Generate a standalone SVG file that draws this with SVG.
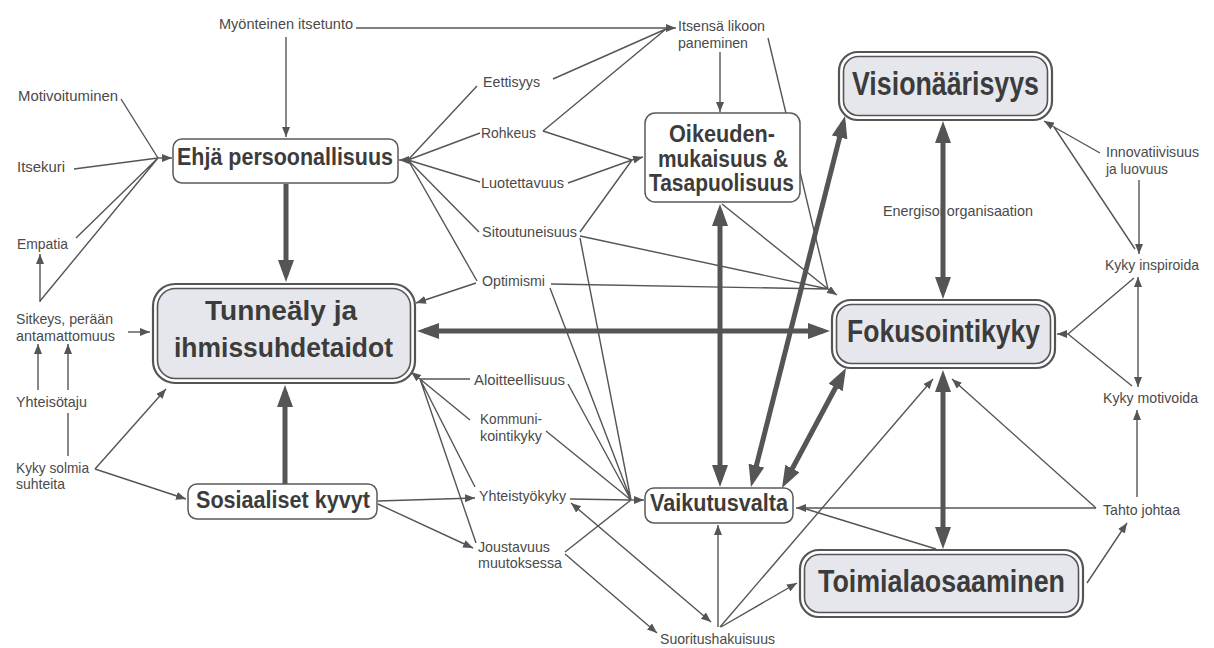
<svg xmlns="http://www.w3.org/2000/svg" width="1214" height="648" viewBox="0 0 1214 648">
  <defs>
    <style>
      .lbl { font-family: "Liberation Sans Narrow", "Liberation Sans", Arial, sans-serif; font-size: 15px; fill: #4a4a4a; }
      .bold { font-family: "Liberation Sans Narrow", "Liberation Sans", Arial, sans-serif; font-weight: bold; fill: #3c3c3c; }
      .thin { stroke: #555; stroke-width: 1.4; fill: none; }
      .thick { stroke: #555; stroke-width: 5; fill: none; }
      .box { fill: #fff; stroke: #5a5a5a; stroke-width: 1.5; }
      .outer { fill: #fff; stroke: #555; stroke-width: 2.2; }
      .inner { fill: #e6e7ec; stroke: #555; stroke-width: 1.6; }
    </style>
    <marker id="a" viewBox="0 0 10 8" refX="10" refY="4" markerWidth="10" markerHeight="8" markerUnits="userSpaceOnUse" orient="auto-start-reverse">
      <path d="M0,0 L10,4 L0,8 z" fill="#555"/>
    </marker>
    <marker id="A" viewBox="0 0 22 16" refX="15" refY="8" markerWidth="22" markerHeight="16" markerUnits="userSpaceOnUse" orient="auto-start-reverse">
      <path d="M0,0 L22,8 L0,16 z" fill="#555"/>
    </marker>
  </defs>
  <rect width="1214" height="648" fill="#fff"/>

  <g id="connectors">
    <!-- thin lines gathered at hubs -->
    <path class="thin" d="M121,99 L158,158 M74,169 L158,158 M76,238 L158,158 M40,301 L158,158"/>
    <path class="thin" d="M158,158 L172,158" marker-end="url(#a)"/>

    <path class="thin" d="M286,37 L286,137" marker-end="url(#a)"/>
    <path class="thin" d="M553,79 L666,29 M543,131 L666,29"/>
    <path class="thin" d="M356,28 L676,28" marker-end="url(#a)"/>

    <path class="thin" d="M408,160 L477,86 M408,160 L480,133 M408,160 L480,182 M408,160 L479,232 M408,160 L477,281"/>
    <path class="thin" d="M408,160 L399,160" marker-end="url(#a)"/>
    <path class="thin" d="M476,283 L416,303" marker-end="url(#a)"/>

    <path class="thin" d="M543,131 L632,160 M568,183 L632,160 M580,232 L632,160"/>
    <path class="thin" d="M632,160 L643,157" marker-end="url(#a)"/>
    <path class="thin" d="M720,52 L720,112" marker-end="url(#a)"/>

    <path class="thin" d="M768,38 L828,289 M722,204 L828,289 M580,236 L828,289 M551,284 L828,289"/>
    <path class="thin" d="M828,289 L837,295" marker-end="url(#a)"/>

    <path class="thin" d="M470,379 L420,379 M470,420 L420,379 M475,487 L420,379 M476,543 L420,379"/>
    <path class="thin" d="M420,379 L411,372" marker-end="url(#a)"/>

    <path class="thin" d="M40,302 L40,254" marker-end="url(#a)"/>
    <path class="thin" d="M38,390 L38,344" marker-end="url(#a)"/>
    <path class="thin" d="M68,390 L68,344" marker-end="url(#a)"/>
    <path class="thin" d="M68,456 L68,413"/>
    <path class="thin" d="M128,332 L150,332" marker-end="url(#a)"/>
    <path class="thin" d="M95,469 L166,389" marker-end="url(#a)"/>
    <path class="thin" d="M95,469 L186,499" marker-end="url(#a)"/>

    <path class="thin" d="M378,501 L475,498" marker-end="url(#a)"/>
    <path class="thin" d="M378,504 L473,548" marker-end="url(#a)"/>

    <path class="thin" d="M580,238 L631,500 M550,288 L631,500 M568,384 L631,500 M546,431 L631,500 M570,499 L631,500 M565,552 L631,500"/>
    <path class="thin" d="M631,500 L644,500" marker-end="url(#a)"/>

    <path class="thin" d="M718,627 L718,525" marker-end="url(#a)"/>
    <path class="thin" d="M720,627 L933,379" marker-end="url(#a)"/>
    <path class="thin" d="M721,627 L797,583" marker-end="url(#a)"/>
    <path class="thin" d="M711,622 L571,503" marker-start="url(#a)" marker-end="url(#a)"/>
    <path class="thin" d="M565,554 L657,633" marker-end="url(#a)"/>

    <path class="thin" d="M1100,153 L1054,127 M1135,249 L1054,127"/>
    <path class="thin" d="M1054,127 L1044,121" marker-end="url(#a)"/>
    <path class="thin" d="M1139,180 L1139,254" marker-end="url(#a)"/>
    <path class="thin" d="M1138,277 L1138,387" marker-start="url(#a)" marker-end="url(#a)"/>
    <path class="thin" d="M1134,278 L1068,334 M1132,386 L1068,334"/>
    <path class="thin" d="M1068,334 L1057,334" marker-end="url(#a)"/>
    <path class="thin" d="M1137,497 L1137,410" marker-end="url(#a)"/>
    <path class="thin" d="M1087,583 L1127,523" marker-end="url(#a)"/>
    <path class="thin" d="M1096,508 L796,508" marker-end="url(#a)"/>
    <path class="thin" d="M1096,508 L952,379" marker-end="url(#a)"/>
    <path class="thin" d="M936,549 L806,509"/>

    <text class="lbl" x="883" y="216" textLength="150" lengthAdjust="spacingAndGlyphs">Energisoi organisaation</text>

    <!-- heavy links -->
    <path class="thick" d="M286,184 L286,275" marker-end="url(#A)"/>
    <path class="thick" d="M285,484 L285,392" marker-end="url(#A)"/>
    <path class="thick" d="M424,331 L823,331" marker-start="url(#A)" marker-end="url(#A)"/>
    <path class="thick" d="M720,211 L720,480" marker-start="url(#A)" marker-end="url(#A)"/>
    <path class="thick" d="M752.7,480.2 L843.3,122.8" marker-start="url(#A)" marker-end="url(#A)"/>
    <path class="thick" d="M785.3,481.8 L842.7,374.2" marker-start="url(#A)" marker-end="url(#A)"/>
    <path class="thick" d="M943,128 L943,292" marker-start="url(#A)" marker-end="url(#A)"/>
    <path class="thick" d="M943,377 L943,542" marker-start="url(#A)" marker-end="url(#A)"/>
  </g>

  <!-- main competences -->
  <g id="visionaarisyys">
    <rect class="outer" x="839" y="52" width="213" height="68" rx="19"/>
    <rect class="inner" x="843.5" y="56.5" width="204" height="59" rx="15"/>
    <text class="bold" x="852" y="95" font-size="33" textLength="187" lengthAdjust="spacingAndGlyphs">Visionäärisyys</text>
  </g>
  <g id="fokusointikyky">
    <rect class="outer" x="832" y="300" width="223" height="68" rx="19"/>
    <rect class="inner" x="836.5" y="304.5" width="214" height="59" rx="15"/>
    <text class="bold" x="847" y="342" font-size="32" textLength="193" lengthAdjust="spacingAndGlyphs">Fokusointikyky</text>
  </g>
  <g id="tunnealy">
    <rect class="outer" x="153" y="284" width="262" height="99" rx="22"/>
    <rect class="inner" x="157.5" y="288.5" width="253" height="90" rx="18"/>
    <text class="bold" x="205" y="320" font-size="28" textLength="152" lengthAdjust="spacingAndGlyphs">Tunneäly ja</text>
    <text class="bold" x="174" y="357" font-size="28" textLength="219" lengthAdjust="spacingAndGlyphs">ihmissuhdetaidot</text>
  </g>
  <g id="toimialaosaaminen">
    <rect class="outer" x="800" y="550" width="283" height="67" rx="19"/>
    <rect class="inner" x="804.5" y="554.5" width="274" height="58" rx="15"/>
    <text class="bold" x="818" y="592" font-size="32" textLength="247" lengthAdjust="spacingAndGlyphs">Toimialaosaaminen</text>
  </g>

  <!-- secondary competences -->
  <g id="ehja">
    <rect class="box" x="173" y="139" width="225" height="44" rx="9"/>
    <text class="bold" x="177" y="165" font-size="23" textLength="216" lengthAdjust="spacingAndGlyphs">Ehjä persoonallisuus</text>
  </g>
  <g id="oikeudenmukaisuus">
    <rect class="box" x="645" y="113" width="155" height="89" rx="10"/>
    <text class="bold" x="669" y="142" font-size="23" textLength="106" lengthAdjust="spacingAndGlyphs">Oikeuden-</text>
    <text class="bold" x="658" y="167" font-size="23" textLength="130" lengthAdjust="spacingAndGlyphs">mukaisuus &amp;</text>
    <text class="bold" x="649" y="191" font-size="23" textLength="145" lengthAdjust="spacingAndGlyphs">Tasapuolisuus</text>
  </g>
  <g id="sosiaaliset">
    <rect class="box" x="188" y="484" width="189" height="35" rx="9"/>
    <text class="bold" x="196" y="508" font-size="23" textLength="174" lengthAdjust="spacingAndGlyphs">Sosiaaliset kyvyt</text>
  </g>
  <g id="vaikutusvalta">
    <rect class="box" x="645" y="488" width="148" height="35" rx="9"/>
    <text class="bold" x="650" y="511" font-size="23" textLength="138" lengthAdjust="spacingAndGlyphs">Vaikutusvalta</text>
  </g>

  <!-- traits -->
  <g id="myonteinen"><text class="lbl" x="219" y="29" textLength="134" lengthAdjust="spacingAndGlyphs">Myönteinen itsetunto</text></g>
  <g id="itsensa">
    <text class="lbl" x="678" y="31" textLength="87" lengthAdjust="spacingAndGlyphs">Itsensä likoon</text>
    <text class="lbl" x="678" y="48" textLength="70" lengthAdjust="spacingAndGlyphs">paneminen</text>
  </g>
  <g id="eettisyys"><text class="lbl" x="483" y="87" textLength="57" lengthAdjust="spacingAndGlyphs">Eettisyys</text></g>
  <g id="rohkeus"><text class="lbl" x="481" y="138" textLength="55" lengthAdjust="spacingAndGlyphs">Rohkeus</text></g>
  <g id="luotettavuus"><text class="lbl" x="481" y="188" textLength="83" lengthAdjust="spacingAndGlyphs">Luotettavuus</text></g>
  <g id="sitoutuneisuus"><text class="lbl" x="482" y="237" textLength="95" lengthAdjust="spacingAndGlyphs">Sitoutuneisuus</text></g>
  <g id="optimismi"><text class="lbl" x="482" y="286" textLength="63" lengthAdjust="spacingAndGlyphs">Optimismi</text></g>
  <g id="aloitteellisuus"><text class="lbl" x="474" y="385" textLength="91" lengthAdjust="spacingAndGlyphs">Aloitteellisuus</text></g>
  <g id="kommunikointikyky">
    <text class="lbl" x="480" y="424" textLength="62" lengthAdjust="spacingAndGlyphs">Kommuni-</text>
    <text class="lbl" x="480" y="441" textLength="62" lengthAdjust="spacingAndGlyphs">kointikyky</text>
  </g>
  <g id="yhteistyokyky"><text class="lbl" x="479" y="501" textLength="87" lengthAdjust="spacingAndGlyphs">Yhteistyökyky</text></g>
  <g id="joustavuus">
    <text class="lbl" x="478" y="552" textLength="72" lengthAdjust="spacingAndGlyphs">Joustavuus</text>
    <text class="lbl" x="478" y="568" textLength="84" lengthAdjust="spacingAndGlyphs">muutoksessa</text>
  </g>
  <g id="suoritushakuisuus"><text class="lbl" x="660" y="644" textLength="115" lengthAdjust="spacingAndGlyphs">Suoritushakuisuus</text></g>
  <g id="motivoituminen"><text class="lbl" x="18" y="101" textLength="100" lengthAdjust="spacingAndGlyphs">Motivoituminen</text></g>
  <g id="itsekuri"><text class="lbl" x="17" y="172" textLength="48" lengthAdjust="spacingAndGlyphs">Itsekuri</text></g>
  <g id="empatia"><text class="lbl" x="17" y="249" textLength="51" lengthAdjust="spacingAndGlyphs">Empatia</text></g>
  <g id="sitkeys">
    <text class="lbl" x="16" y="324" textLength="97" lengthAdjust="spacingAndGlyphs">Sitkeys, perään</text>
    <text class="lbl" x="16" y="341" textLength="99" lengthAdjust="spacingAndGlyphs">antamattomuus</text>
  </g>
  <g id="yhteisotaju"><text class="lbl" x="16" y="407" textLength="71" lengthAdjust="spacingAndGlyphs">Yhteisötaju</text></g>
  <g id="kyky-solmia">
    <text class="lbl" x="16" y="473" textLength="73" lengthAdjust="spacingAndGlyphs">Kyky solmia</text>
    <text class="lbl" x="16" y="489" textLength="49" lengthAdjust="spacingAndGlyphs">suhteita</text>
  </g>
  <g id="innovatiivisuus">
    <text class="lbl" x="1106" y="157" textLength="93" lengthAdjust="spacingAndGlyphs">Innovatiivisuus</text>
    <text class="lbl" x="1106" y="174" textLength="62" lengthAdjust="spacingAndGlyphs">ja luovuus</text>
  </g>
  <g id="kyky-inspiroida"><text class="lbl" x="1105" y="270" textLength="94" lengthAdjust="spacingAndGlyphs">Kyky inspiroida</text></g>
  <g id="kyky-motivoida"><text class="lbl" x="1103" y="403" textLength="95" lengthAdjust="spacingAndGlyphs">Kyky motivoida</text></g>
  <g id="tahto-johtaa"><text class="lbl" x="1103" y="515" textLength="77" lengthAdjust="spacingAndGlyphs">Tahto johtaa</text></g>
</svg>
